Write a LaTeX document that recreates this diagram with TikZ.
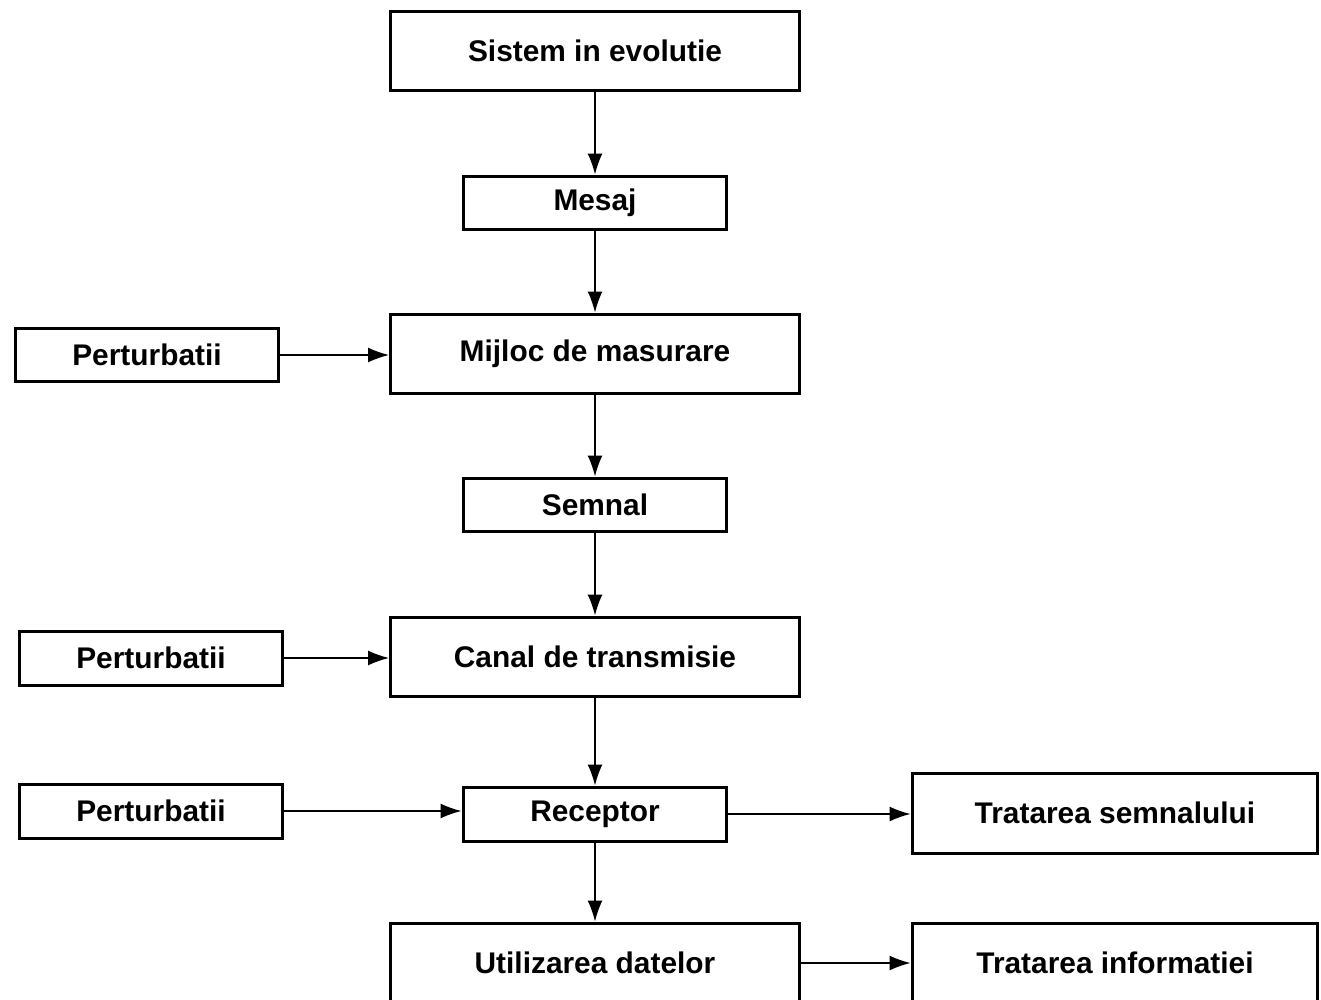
\documentclass[tikz,border=0pt]{standalone}
\usepackage{fontspec}
\setmainfont{Liberation Sans}
\usetikzlibrary{arrows.meta, positioning}
\tikzset{
  block/.style={rectangle, draw=black, line width=0.06cm, fill=white, text centered,
    font=\fontsize{17}{20}\selectfont\bfseries},
  bigblock/.style={block, minimum width=8.18cm, minimum height=1.6cm},
  smallblock/.style={block, minimum width=5.28cm, minimum height=1.08cm},
  arrow/.style={line width=0.03cm, -{Latex[length=0.42cm, width=0.3cm]}}
}

\begin{document}
\begin{tikzpicture}[x=0.02cm, y=-0.02cm]
\clip (0,0) rectangle (1321,1000);
\fill[white] (0,0) rectangle (1321,1000);

% main chain
\node (sistem) [bigblock] at (595,51) {Sistem in evolutie};
\node (mesaj) [smallblock] at (595,203) {Mesaj};
\node (mijloc) [bigblock] at (595,354) {Mijloc de masurare};
\node (semnal) [smallblock] at (595,505) {Semnal};
\node (canal) [bigblock] at (595,657) {Canal de transmisie};
\node (receptor) [smallblock] at (595,814) {Receptor};
\node (utilizare) [bigblock] at (595,963) {Utilizarea datelor};

% disturbances
\node (pert1) [smallblock] at (147,355) {Perturbatii};
\node (pert2) [smallblock] at (151,658) {Perturbatii};
\node (pert3) [smallblock] at (151,811) {Perturbatii};

% processing
\node (tsemnal) [bigblock, minimum width=8.12cm] at (1115,813) {Tratarea semnalului};
\node (tinfo) [bigblock, minimum width=8.12cm] at (1115,963) {Tratarea informatiei};

\draw [arrow] (sistem) -- (mesaj);
\draw [arrow] (mesaj) -- (mijloc);
\draw [arrow] (mijloc) -- (semnal);
\draw [arrow] (semnal) -- (canal);
\draw [arrow] (canal) -- (receptor);
\draw [arrow] (receptor) -- (utilizare);

\draw [arrow] (pert1.east) -- (pert1.east -| mijloc.west);
\draw [arrow] (pert2.east) -- (pert2.east -| canal.west);
\draw [arrow] (pert3.east) -- (pert3.east -| receptor.west);
\draw [arrow] (receptor.east) -- (receptor.east -| tsemnal.west);
\draw [arrow] (utilizare.east) -- (utilizare.east -| tinfo.west);
\end{tikzpicture}
\end{document}
